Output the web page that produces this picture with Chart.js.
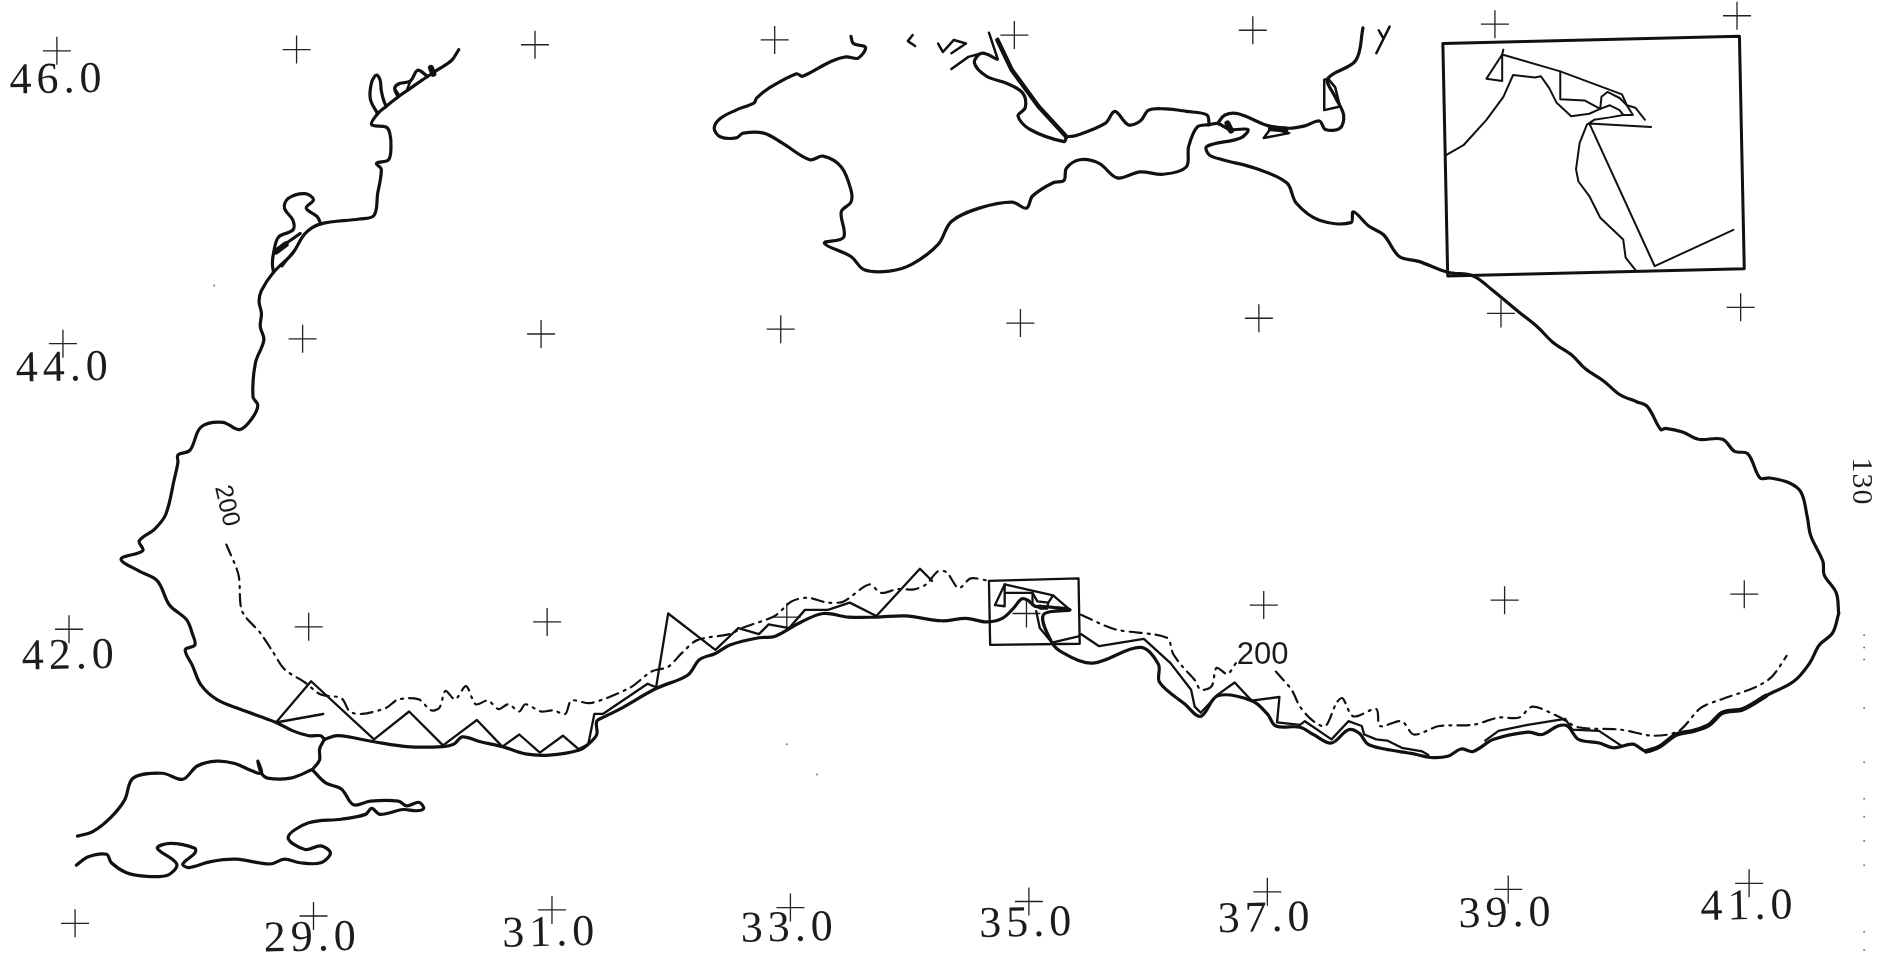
<!DOCTYPE html>
<html>
<head>
<meta charset="utf-8">
<title>Black Sea track chart</title>
<script src="https://cdn.jsdelivr.net/npm/chart.js@4/dist/chart.umd.min.js"></script>
<style>
  html, body { margin: 0; padding: 0; background: #fff; overflow: hidden; }
  canvas { display: block; }
</style>
</head>
<body>
<canvas id="map" width="1898" height="962"></canvas>
<script>
// all points are [longitude in deg E, latitude in arc-minutes north of 40N]
const westCoast = [[30.29,354.5],[30.23,350],[30.11,346],[29.99,342],[29.89,338.5],[29.79,335],[29.69,331],[29.62,328],[29.57,323.5],[29.69,322.5],[29.72,320],[29.73,314.5],[29.71,309],[29.61,307.5],[29.65,305],[29.62,295],[29.59,286],[29.47,284.5],[29.15,282.5],[29.02,278.5],[28.92,270.5],[28.76,262.5],[28.66,255],[28.64,250.5],[28.66,245.5],[28.65,240],[28.68,234.5],[28.61,225],[28.59,211],[28.63,207.5],[28.58,202],[28.48,197.5],[28.34,200.5],[28.16,198.5],[28.07,189],[27.97,187],[27.97,184],[27.94,177],[27.87,162.5],[27.78,156.5],[27.65,151.5],[27.68,147.5],[27.5,144],[27.65,139],[27.8,135],[27.9,125],[28.04,119],[28.09,113],[28.11,108.5],[28.03,106.5],[28.09,100],[28.16,92],[28.29,86],[28.48,82],[28.78,76.5],[28.92,73],[29.05,71],[29.15,71],[29.18,69.5]];
const southCoast = [[29.18,69.5],[29.29,71],[29.59,68.5],[29.86,66.5],[30.16,66.5],[30.25,67.5],[30.32,70.5],[30.47,68.5],[30.65,66.5],[30.84,63.5],[31.04,63],[31.28,65],[31.36,67.5],[31.43,71.5],[31.43,77],[31.5,79],[31.62,82],[31.92,90.5],[32.18,96],[32.28,102.5],[32.41,105],[32.53,108.5],[32.77,111.5],[32.9,112],[33.1,117.5],[33.3,121.5],[33.51,120],[33.74,120],[33.98,120.5],[34.28,118.5],[34.48,119.5],[34.65,118],[34.78,119.5],[34.87,123.5],[34.94,127.5],[34.99,127],[35.05,124.5],[35.1,124.5],[35.34,123],[35.12,121],[35.19,109.5],[35.29,105],[35.53,101],[35.92,107.5],[36.07,100.5],[36.08,93],[36.29,84],[36.42,79],[36.56,87.5],[36.84,85.5],[36.97,80],[37.04,75],[37.24,74.5],[37.35,71.5],[37.5,68],[37.64,73.5],[37.73,72],[37.8,67.5],[37.94,65.5],[38.18,63.5],[38.32,62],[38.46,62.5],[38.57,65.5],[38.67,64.5],[38.84,69.5],[39.12,72.5],[39.24,71.5],[39.37,75],[39.45,75],[39.54,69.5],[39.71,68],[39.83,66],[39.99,67.5],[40.1,64.5],[40.21,66.5],[40.35,71.5],[40.49,73],[40.62,75.5],[40.73,80.5],[40.9,82],[41.09,87.5],[41.32,93.5],[41.45,101],[41.53,108.5],[41.64,113.5],[41.69,121.5]];
const eastCoast = [[41.69,121.5],[41.67,130],[41.57,137.5],[41.56,143],[41.46,153.5],[41.43,161.5],[41.38,171.5],[41.28,175.5],[41.12,177.5],[41.04,177.5],[40.94,187.5],[40.83,188.5],[40.73,193.5],[40.53,193.5],[40.4,196.5],[40.26,198],[40.22,197.5],[40.11,207],[40.02,209],[39.88,212],[39.75,217.5],[39.6,222.5],[39.48,228.5],[39.33,233.5],[39.2,240],[39.05,246],[38.82,255.5],[38.67,261],[38.46,262.5],[38.22,267],[38.06,269],[37.93,278],[37.81,281.5],[37.68,287.5],[37.66,283],[37.4,284],[37.21,291],[37.13,299.5],[36.87,305.5],[36.6,309],[36.49,311],[36.47,314.5],[36.75,318],[36.81,321.5],[36.66,321.5],[36.56,324],[36.49,323.5]];
const crimeaSouth = [[36.49,323.5],[36.39,322.5],[36.32,314.5],[36.3,306],[36.11,303],[35.92,304],[35.73,301.5],[35.58,307.5],[35.42,309],[35.31,305.5],[35.29,300.5],[35.2,299.5],[35.03,294],[34.98,289],[34.86,291.5],[34.59,289],[34.36,283.5],[34.25,274],[34.04,266],[33.85,263],[33.64,263.5],[33.53,269],[33.31,274.5],[33.47,277],[33.45,287.5],[33.53,291.5],[33.53,296.5],[33.45,306],[33.3,310.5],[33.19,309],[32.96,316],[32.81,320],[32.64,320],[32.58,318],[32.45,318.5],[32.4,322],[32.45,326],[32.58,329.5],[32.73,332.5],[32.75,334.5],[32.85,338.5],[33.08,344.5],[33.13,343.5],[33.36,349.5],[33.49,351.5],[33.59,351],[33.65,355.5],[33.55,357],[33.53,360]];
const azovSouth = [[36.49,323.5],[36.47,327.5],[36.3,329],[36.13,330],[35.99,329.5],[35.92,325],[35.82,323.5],[35.71,329],[35.63,324],[35.39,319],[35.31,318.5]];
const arabatSpit = [[35.31,318.5],[35.08,331],[34.86,346],[34.74,358.5]];
const arabatThin = [[34.67,361.5],[34.74,351]];
const sivash = [[35.31,318.5],[35.29,316.5],[35.01,321.5],[34.91,327],[34.97,330.5],[34.95,336.5],[34.82,340.5],[34.65,343.5],[34.55,349],[34.61,353],[34.74,350.5]];
const sivashBitA = [[34.36,346.5],[34.5,351.5],[34.61,353]];
const sivashBitB = [[34.04,360.5],[34.0,358],[34.06,356]];
const sivashBitC = [[34.25,357],[34.29,353.5],[34.38,358.5],[34.48,357],[34.36,353]];
const azovEast = [[36.56,324],[36.62,327.5],[36.73,328],[36.98,323],[37.15,322],[37.28,323],[37.4,325],[37.45,321.5],[37.57,322],[37.6,327.5],[37.53,335],[37.47,342.5],[37.7,350],[37.76,363.5]];
const azovBlob = [[37.47,342.5],[37.44,342],[37.44,329.5],[37.57,331],[37.53,339],[37.47,342.5]];
const azovY = [[37.89,362.5],[37.93,359],[37.98,364],[37.93,359],[37.87,353]];
const tamanLoop = [[37.0,322],[36.94,318],[37.15,320],[37.0,322]];
const bosporus = [[29.18,69.5],[29.14,65.5],[29.14,61],[29.08,57]];
const marmaraNorth = [[29.08,57],[28.9,53.5],[28.71,53.5],[28.66,55.5],[28.63,60.5],[28.66,55.5],[28.58,56.5],[28.44,59.5],[28.29,60.5],[28.13,58.5],[28.01,53],[27.84,55.5],[27.6,53.5],[27.53,44.5],[27.42,37.5],[27.27,31.5],[27.14,29.5]];
const marmaraSouth = [[29.08,57],[29.19,51.5],[29.32,49],[29.42,42.5],[29.56,44],[29.79,44],[29.86,42],[29.96,43.5],[30,41],[29.94,40],[29.83,40.5],[29.64,38.5],[29.57,41],[29.52,38.5],[29.32,36.5],[29.05,35],[28.88,29],[29.02,24],[29.15,25.5],[29.23,22.5],[29.15,18.5],[28.98,18.5],[28.85,20],[28.73,18],[28.45,20],[28.24,19],[28.06,16.5],[28.01,18],[28.11,22.5],[28.11,24.5],[27.91,26.5],[27.8,24.5],[27.96,18],[27.89,13.5],[27.69,13],[27.54,14.5],[27.42,18.5],[27.38,22],[27.23,21],[27.13,17.5]];
const limanA = [[29.62,328],[29.56,334],[29.57,341],[29.61,344],[29.64,342],[29.65,337.5],[29.67,333.5],[29.69,331]];
const limanB = [[29.79,335],[29.76,338.5],[29.8,340.5],[29.89,341.5],[29.95,346],[30.03,343.5]];
const limanBInner = [[29.76,338.5],[29.8,335.5],[29.86,337.5],[29.89,341.5]];
const limanC = [[29.15,282.5],[29.12,285.5],[29.03,289],[29.09,292.5],[29.02,295],[28.88,293],[28.85,289],[28.92,284],[28.92,280],[28.8,277],[28.76,270.5],[28.75,266],[28.76,262.5]];
const limanD = [[28.93,271.5],[28.83,265]];
const limanE = [[28.78,271.5],[28.98,278.5]];
const westTrack = [[28.78,76.5],[29.07,93.5],[29.59,69.5],[29.88,81],[30.16,67],[30.44,77.5],[30.65,66.5],[30.79,71.5],[30.96,64],[31.15,71],[31.28,65.5],[31.36,67.5],[31.41,80],[31.48,80],[31.85,92.5],[31.92,91],[32.02,121.5],[32.41,106.5],[32.6,115.5],[32.77,113],[32.85,117],[33.02,115.5],[33.15,123],[33.34,123],[33.52,126],[33.74,120.5],[34.1,140],[34.2,135]];
const westSpur = [[28.78,76.5],[29.17,80]];
const eastTrackA = [[35.19,109.5],[35.41,112],[35.43,113],[35.58,108],[35.95,111],[36.17,101],[36.34,90],[36.37,83],[36.42,80.5],[36.56,88],[36.7,93],[36.84,85.5],[37.07,87],[37.05,76.5],[37.24,75.5],[37.28,77],[37.5,69.5],[37.64,77],[37.75,75],[37.77,71.5],[37.87,69.5],[37.96,69],[38.08,66],[38.25,64.5],[38.3,63]];
const eastTrackB = [[38.77,69],[38.88,73],[39.12,75.5],[39.43,78],[39.49,73.5],[39.71,73],[39.89,67]];
const sinopBranch = [[35.06,122.5],[35.09,115.5],[35.19,109.5]];
const contourWest = [[28.37,150],[28.47,137.5],[28.5,122.5],[28.65,113.5],[28.75,106],[28.85,98.5],[29.02,93],[29.15,88],[29.32,86.5],[29.39,81],[29.49,80],[29.69,82.5],[29.79,86],[29.96,86],[30.06,81.5],[30.13,82.5],[30.18,89.5],[30.26,86],[30.35,91.5],[30.43,84],[30.53,85.5],[30.62,82],[30.7,84],[30.79,81],[30.84,84],[30.97,81],[31.07,81.5],[31.17,80],[31.22,85.5],[31.38,84.5],[31.71,91],[31.88,97.5],[32.02,99.5],[32.13,105],[32.26,110.5],[32.53,113],[32.63,115.5],[32.9,120.5],[33.04,126.5],[33.17,128],[33.34,126],[33.47,126.5],[33.68,133.5],[33.78,130],[33.91,131.5],[34.05,131.5],[34.15,133.5],[34.25,139],[34.32,138.5],[34.42,132],[34.52,136],[34.67,135]];
const contourMid = [[35.43,121],[35.71,115],[36.14,111.5],[36.19,105],[36.27,99.5],[36.37,94],[36.42,90],[36.51,91.5],[36.55,99],[36.64,96.5],[36.71,101]];
const contourEast = [[37.04,97.5],[37.17,90],[37.24,83],[37.35,77],[37.45,75],[37.54,84.5],[37.59,86.5],[37.68,79],[37.87,82],[37.9,75],[38.08,77],[38.18,71.5],[38.39,75],[38.67,75.5],[38.88,78.5],[39.05,78.5],[39.16,83],[39.37,79],[39.54,74.5],[39.89,73.5],[40.16,71],[40.37,73],[40.55,82.5],[40.72,86],[41,91],[41.14,95.5],[41.26,104]];
const smallBox = [[34.67,135],[35.41,136],[35.42,109],[34.68,108.5],[34.67,135]];
const smallTri = [[34.72,125],[34.8,133.5],[34.8,124.5],[34.72,125]];
const smallTop = [[34.8,133.5],[35.2,129],[35.34,123]];
const smallInner = [[34.81,130],[35.03,130],[35.07,126.5],[35.16,126],[35.2,129]];
const smallBlob = [[35.03,130],[35.03,125],[35.1,123.5],[35.15,123.5],[35.16,126]];
const insetBox = [[38.42,357],[40.87,360],[40.91,264],[38.46,261],[38.42,357]];
const insetCoast = [[38.45,311],[38.59,315],[38.78,325.5],[38.92,335],[39,344],[39.18,343],[39.23,343.5],[39.3,338.5],[39.36,332.5],[39.48,327],[39.63,328],[39.72,330],[39.8,331.5],[39.88,329.5],[39.91,327.5],[39.8,326.5],[39.67,325.5],[39.61,323.5],[39.55,316],[39.52,305],[39.54,300],[39.63,294],[39.72,285],[39.91,276],[39.93,268.5],[40.01,263.5]];
const insetTri = [[38.78,342.5],[38.91,352.5],[38.91,341.5],[38.78,342.5]];
const insetTrackA = [[38.92,354.5],[38.91,352.5],[39.39,345.5],[39.9,336],[39.94,331.5],[40.01,330.5],[40.09,325.5]];
const insetTrackB = [[39.39,345.5],[39.39,334],[39.59,333.5],[39.72,330],[39.73,335],[39.78,337],[39.88,334.5],[39.94,331.5],[39.99,327.5],[39.91,327.5]];
const insetTrackC = [[40.14,322.5],[39.63,324],[40.17,265],[40.82,280]];

// heavy ink blots of the scan
const blotKerch = [[36.64,324],[36.67,321]];
const blotTaman = [[37.0,322],[37.12,321.5]];
const blotLiman = [[28.78,271],[28.86,274]];
const blotBug = [[30.06,347],[30.08,344.5]];
const coastHeavyEast = [[40.1,64.5],[40.21,66.5],[40.35,71.5],[40.49,73],[40.62,75.5],[40.73,80.5],[40.9,82],[41.09,87.5]];

const gridCrosses = [[26.97,354],[28.95,354.5],[30.92,356.5],[32.9,358.5],[34.88,360.5],[36.85,362.5],[38.85,365],[40.85,368.5],[27.02,233],[29,235],[30.97,237],[32.95,239],[34.93,241.5],[36.9,243.5],[38.9,245.5],[40.88,248],[27.07,115],[29.05,116],[31.02,118],[33,120],[34.98,121.5],[36.94,125],[38.93,127],[40.91,129.5],[27.12,-6.5],[29.09,-3.5],[31.06,-1],[33.03,0],[35,2.5],[36.97,6.5],[38.96,7.5],[40.95,10]];
const specks = [[28.27,257],[33,67.5],[33.25,55],[41.9,112.5],[41.9,107.5],[41.9,102.5],[41.9,82.5],[41.9,60],[41.9,45],[41.9,37.5],[41.9,27.5],[41.9,17.5],[41.9,-10],[41.9,-17.5]];

const tickTexts = ['46.0','44.0','42.0','29.0','31.0','33.0','35.0','37.0','39.0','41.0'];
const tickLons = [26.98,27.03,27.08,29.08,31.05,33.02,34.99,36.96,38.95,40.95];
const tickLats = [341.5,222.5,103.5,-13,-11,-9,-7,-5,-3,0];

const INK = '#111';
const asPoints = arr => arr.map(p => ({ x: p[0], y: p[1] }));
const stroke = (arr, borderWidth, opts) => Object.assign({
  data: asPoints(arr), showLine: true, pointRadius: 0, borderColor: INK,
  borderWidth, borderJoinStyle: 'round', borderCapStyle: 'round', tension: 0
}, opts);

const SMOOTH = { tension: 0.35 };
const DASHDOT = { borderDash: [12, 6, 2, 6], tension: 0.3 };
const datasets = [];
[westCoast, southCoast, eastCoast, crimeaSouth, azovSouth, azovEast, bosporus, marmaraNorth, marmaraSouth, sivash, limanC, limanB, limanA, limanE]
  .forEach(l => datasets.push(stroke(l, 3.2, SMOOTH)));
datasets.push(stroke(coastHeavyEast, 4.5, SMOOTH));
datasets.push(stroke(arabatSpit, 4.5));
[blotKerch, blotTaman, blotLiman, blotBug].forEach(l => datasets.push(stroke(l, 6)));
[arabatThin, sivashBitA, sivashBitB, sivashBitC, azovBlob, azovY, tamanLoop, limanD, limanBInner, westSpur].forEach(l => datasets.push(stroke(l, 2.5)));
[westTrack, eastTrackA, eastTrackB, sinopBranch, smallBox, smallTri, smallTop, smallInner, smallBlob].forEach(l => datasets.push(stroke(l, 2.3)));
[insetCoast, insetTri, insetTrackA, insetTrackB, insetTrackC].forEach(l => datasets.push(stroke(l, 2)));
datasets.push(stroke(insetBox, 3));
[contourWest, contourMid, contourEast].forEach(l => datasets.push(stroke(l, 2.2, DASHDOT)));
datasets.push({ data: asPoints(gridCrosses), showLine: false, pointStyle: 'cross', pointRadius: 14, pointBorderColor: '#222', pointBorderWidth: 1.3 });
datasets.push({ data: asPoints(specks), showLine: false, pointStyle: 'circle', pointRadius: 1, pointBackgroundColor: '#777', pointBorderWidth: 0 });

// the scanned labels sit off any straight axis, so they are placed by data value
const textPlugin = {
  id: 'mapText',
  afterDatasetsDraw(chart) {
    const { ctx, scales } = chart;
    const put = (text, lon, lat, font, rot, spacing) => {
      ctx.save();
      ctx.translate(scales.x.getPixelForValue(lon), scales.y.getPixelForValue(lat));
      ctx.rotate(rot);
      ctx.font = font;
      ctx.letterSpacing = spacing;
      ctx.fillStyle = '#1c1c1c';
      ctx.textAlign = 'center';
      ctx.textBaseline = 'middle';
      ctx.fillText(text, 0, 0);
      ctx.restore();
    };
    tickTexts.forEach((t, i) => put(t, tickLons[i], tickLats[i], '44px "Liberation Serif"', -0.02, '5px'));
    put('130', 41.87, 176, '30px "Liberation Serif"', Math.PI / 2, '1px');
    put('200', 28.37, 166, '25px "Liberation Sans"', 1.35, '0px');
    put('200', 36.93, 104, '31px "Liberation Sans"', 0, '0px');
  }
};

new Chart(document.getElementById('map'), {
  type: 'scatter',
  data: { datasets },
  plugins: [textPlugin],
  options: {
    responsive: false,
    animation: false,
    layout: { padding: 0, autoPadding: false },
    plugins: { legend: { display: false }, tooltip: { enabled: false } },
    scales: {
      x: { type: 'linear', min: 26.5, max: 42.18, display: false },
      y: { type: 'linear', min: -22.5, max: 375, display: false }
    }
  }
});
</script>
</body>
</html>
